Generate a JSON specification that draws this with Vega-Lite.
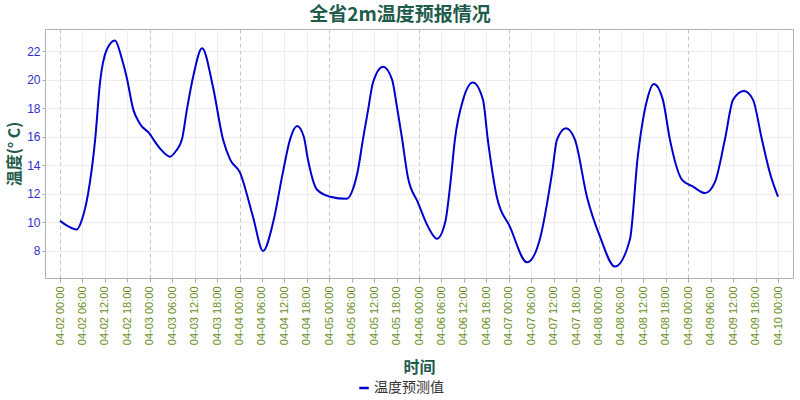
{
  "$schema": "https://vega.github.io/schema/vega-lite/v6.json",
  "width": 748,
  "height": 249,
  "autosize": {"type": "none"},
  "padding": {"left": 45, "top": 29, "right": 7, "bottom": 122},
  "background": "white",
  "config": {
    "view": {"stroke": "#b0b0b0", "strokeWidth": 1}
  },
  "title": {
    "text": "全省2m温度预报情况",
    "font": "Noto Sans CJK SC",
    "fontSize": 19,
    "fontWeight": "bold",
    "color": "#1e5b4b",
    "anchor": "middle",
    "frame": "group",
    "dx": -19,
    "offset": 4
  },
  "data": {
    "values": [
      {"time": "2025-04-02T00:00", "temp": 10.1, "series": "温度预测值"},
      {"time": "2025-04-02T02:00", "temp": 9.75, "series": "温度预测值"},
      {"time": "2025-04-02T04:30", "temp": 9.5, "series": "温度预测值"},
      {"time": "2025-04-02T06:00", "temp": 10.3, "series": "温度预测值"},
      {"time": "2025-04-02T07:30", "temp": 12.0, "series": "温度预测值"},
      {"time": "2025-04-02T09:24", "temp": 15.8, "series": "温度预测值"},
      {"time": "2025-04-02T10:42", "temp": 19.8, "series": "温度预测值"},
      {"time": "2025-04-02T12:30", "temp": 22.1, "series": "温度预测值"},
      {"time": "2025-04-02T14:42", "temp": 22.75, "series": "温度预测值"},
      {"time": "2025-04-02T16:30", "temp": 21.5, "series": "温度预测值"},
      {"time": "2025-04-02T17:48", "temp": 20.2, "series": "温度预测值"},
      {"time": "2025-04-02T19:36", "temp": 17.9, "series": "温度预测值"},
      {"time": "2025-04-02T21:24", "temp": 16.9, "series": "温度预测值"},
      {"time": "2025-04-03T00:00", "temp": 16.2, "series": "温度预测值"},
      {"time": "2025-04-03T01:00", "temp": 15.8, "series": "温度预测值"},
      {"time": "2025-04-03T03:00", "temp": 15.1, "series": "温度预测值"},
      {"time": "2025-04-03T05:24", "temp": 14.6, "series": "温度预测值"},
      {"time": "2025-04-03T07:00", "temp": 15.0, "series": "温度预测值"},
      {"time": "2025-04-03T08:36", "temp": 15.8, "series": "温度预测值"},
      {"time": "2025-04-03T10:00", "temp": 18.0, "series": "温度预测值"},
      {"time": "2025-04-03T11:36", "temp": 20.2, "series": "温度预测值"},
      {"time": "2025-04-03T14:00", "temp": 22.2, "series": "温度预测值"},
      {"time": "2025-04-03T16:54", "temp": 19.5, "series": "温度预测值"},
      {"time": "2025-04-03T19:36", "temp": 15.8, "series": "温度预测值"},
      {"time": "2025-04-03T21:30", "temp": 14.4, "series": "温度预测值"},
      {"time": "2025-04-04T00:06", "temp": 13.5, "series": "温度预测值"},
      {"time": "2025-04-04T03:36", "temp": 10.4, "series": "温度预测值"},
      {"time": "2025-04-04T06:18", "temp": 8.0, "series": "温度预测值"},
      {"time": "2025-04-04T09:00", "temp": 10.0, "series": "温度预测值"},
      {"time": "2025-04-04T11:36", "temp": 13.5, "series": "温度预测值"},
      {"time": "2025-04-04T13:30", "temp": 15.8, "series": "温度预测值"},
      {"time": "2025-04-04T15:24", "temp": 16.75, "series": "温度预测值"},
      {"time": "2025-04-04T17:12", "temp": 16.0, "series": "温度预测值"},
      {"time": "2025-04-04T18:18", "temp": 14.4, "series": "温度预测值"},
      {"time": "2025-04-04T20:42", "temp": 12.3, "series": "温度预测值"},
      {"time": "2025-04-05T00:12", "temp": 11.8, "series": "温度预测值"},
      {"time": "2025-04-05T04:42", "temp": 11.65, "series": "温度预测值"},
      {"time": "2025-04-05T06:18", "temp": 12.3, "series": "温度预测值"},
      {"time": "2025-04-05T07:42", "temp": 13.7, "series": "温度预测值"},
      {"time": "2025-04-05T09:00", "temp": 15.8, "series": "温度预测值"},
      {"time": "2025-04-05T10:24", "temp": 17.9, "series": "温度预测值"},
      {"time": "2025-04-05T11:42", "temp": 19.8, "series": "温度预测值"},
      {"time": "2025-04-05T14:24", "temp": 20.9, "series": "温度预测值"},
      {"time": "2025-04-05T16:48", "temp": 20.0, "series": "温度预测值"},
      {"time": "2025-04-05T18:06", "temp": 18.1, "series": "温度预测值"},
      {"time": "2025-04-05T19:24", "temp": 16.0, "series": "温度预测值"},
      {"time": "2025-04-05T21:00", "temp": 13.2, "series": "温度预测值"},
      {"time": "2025-04-05T23:42", "temp": 11.4, "series": "温度预测值"},
      {"time": "2025-04-06T02:24", "temp": 9.7, "series": "温度预测值"},
      {"time": "2025-04-06T04:48", "temp": 8.85, "series": "温度预测值"},
      {"time": "2025-04-06T07:00", "temp": 10.0, "series": "温度预测值"},
      {"time": "2025-04-06T08:30", "temp": 13.0, "series": "温度预测值"},
      {"time": "2025-04-06T09:36", "temp": 15.8, "series": "温度预测值"},
      {"time": "2025-04-06T11:48", "temp": 18.6, "series": "温度预测值"},
      {"time": "2025-04-06T14:24", "temp": 19.8, "series": "温度预测值"},
      {"time": "2025-04-06T17:06", "temp": 18.6, "series": "温度预测值"},
      {"time": "2025-04-06T18:24", "temp": 15.8, "series": "温度预测值"},
      {"time": "2025-04-06T20:48", "temp": 11.8, "series": "温度预测值"},
      {"time": "2025-04-07T00:18", "temp": 9.7, "series": "温度预测值"},
      {"time": "2025-04-07T04:54", "temp": 7.2, "series": "温度预测值"},
      {"time": "2025-04-07T08:18", "temp": 8.8, "series": "温度预测值"},
      {"time": "2025-04-07T11:36", "temp": 13.5, "series": "温度预测值"},
      {"time": "2025-04-07T12:54", "temp": 15.8, "series": "温度预测值"},
      {"time": "2025-04-07T15:18", "temp": 16.6, "series": "温度预测值"},
      {"time": "2025-04-07T17:42", "temp": 15.8, "series": "温度预测值"},
      {"time": "2025-04-07T20:54", "temp": 11.8, "series": "温度预测值"},
      {"time": "2025-04-08T00:24", "temp": 9.0, "series": "温度预测值"},
      {"time": "2025-04-08T04:24", "temp": 6.9, "series": "温度预测值"},
      {"time": "2025-04-08T08:24", "temp": 8.8, "series": "温度预测值"},
      {"time": "2025-04-08T10:30", "temp": 14.6, "series": "温度预测值"},
      {"time": "2025-04-08T13:00", "temp": 18.6, "series": "温度预测值"},
      {"time": "2025-04-08T14:48", "temp": 19.7, "series": "温度预测值"},
      {"time": "2025-04-08T17:12", "temp": 18.6, "series": "温度预测值"},
      {"time": "2025-04-08T19:06", "temp": 15.8, "series": "温度预测值"},
      {"time": "2025-04-08T22:18", "temp": 13.0, "series": "温度预测值"},
      {"time": "2025-04-09T01:18", "temp": 12.5, "series": "温度预测值"},
      {"time": "2025-04-09T04:30", "temp": 12.05, "series": "温度预测值"},
      {"time": "2025-04-09T07:06", "temp": 12.8, "series": "温度预测值"},
      {"time": "2025-04-09T09:48", "temp": 15.8, "series": "温度预测值"},
      {"time": "2025-04-09T12:00", "temp": 18.6, "series": "温度预测值"},
      {"time": "2025-04-09T14:54", "temp": 19.2, "series": "温度预测值"},
      {"time": "2025-04-09T17:18", "temp": 18.6, "series": "温度预测值"},
      {"time": "2025-04-09T19:42", "temp": 15.8, "series": "温度预测值"},
      {"time": "2025-04-09T21:48", "temp": 13.5, "series": "温度预测值"},
      {"time": "2025-04-10T00:00", "temp": 11.8, "series": "温度预测值"}
    ]
  },
  "mark": {"type": "line", "interpolate": "monotone", "strokeWidth": 2},
  "encoding": {
    "x": {
      "field": "time",
      "type": "temporal",
      "scale": {"padding": 15, "nice": false},
      "axis": {
        "title": "时间",
        "titleFont": "Noto Sans CJK SC",
        "titleFontSize": 16,
        "titleFontWeight": "bold",
        "titleColor": "#1e5b4b",
        "titlePadding": 15,
        "tickCount": 40,
        "format": "%m-%d %H:%M",
        "labelAngle": 270,
        "labelFont": "Liberation Sans",
        "labelFontSize": 11,
        "labelColor": "#6b8e23",
        "labelPadding": 4,
        "labelOverlap": false,
        "labelFlush": false,
        "tickSize": 4,
        "tickColor": "#aaaaaa",
        "domain": false,
        "grid": true,
        "gridColor": {
          "condition": {"test": "hours(datum.value) === 0 && date(datum.value) < 10", "value": "#c4c4c4"},
          "value": "#ececec"
        },
        "gridDash": {
          "condition": {"test": "hours(datum.value) === 0 && date(datum.value) < 10", "value": [4, 3]},
          "value": []
        },
        "gridWidth": 1
      }
    },
    "y": {
      "field": "temp",
      "type": "quantitative",
      "scale": {"domain": [6.1, 23.55], "nice": false, "zero": false},
      "axis": {
        "title": "温度(° C)",
        "titleFont": "Noto Sans CJK SC",
        "titleFontSize": 16,
        "titleFontWeight": "bold",
        "titleColor": "#1e5b4b",
        "titlePadding": 4,
        "values": [8, 10, 12, 14, 16, 18, 20, 22],
        "labelFont": "Liberation Sans",
        "labelFontSize": 12,
        "labelColor": "#3030d0",
        "labelPadding": 2,
        "tickSize": 3,
        "tickColor": "#aaaaaa",
        "domain": false,
        "grid": true,
        "gridColor": "#ececec"
      }
    },
    "color": {
      "field": "series",
      "type": "nominal",
      "scale": {"range": ["#0000cd"]},
      "legend": {
        "title": null,
        "orient": "none",
        "legendX": 312,
        "legendY": 352,
        "symbolType": "stroke",
        "symbolSize": 90,
        "symbolStrokeWidth": 2.5,
        "labelFont": "Noto Sans CJK SC",
        "labelFontSize": 14,
        "labelColor": "#333333",
        "labelOffset": 3
      }
    }
  }
}
